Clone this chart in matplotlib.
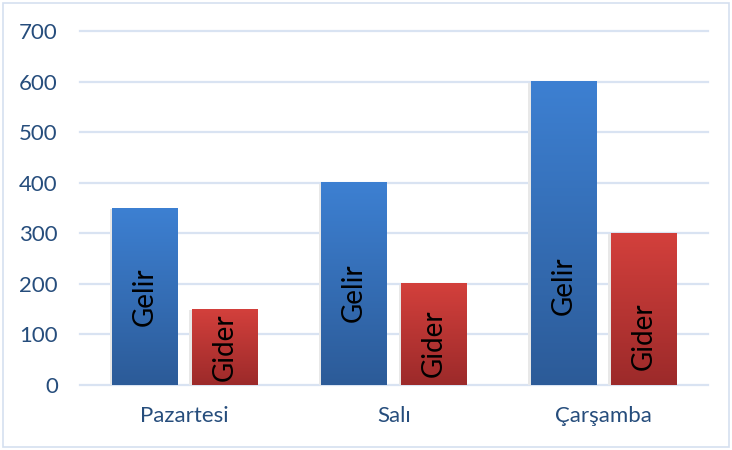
import numpy as np
import matplotlib.pyplot as plt
from matplotlib.colors import LinearSegmentedColormap
from matplotlib.patches import Rectangle

# veriler
gunler = ['Pazartesi', 'Salı', 'Çarşamba']
gelir = [350, 400, 600]
gider = [150, 200, 300]
yticks = [0, 100, 200, 300, 400, 500, 600, 700]
# çubuk içindeki yazıların orta noktaları
gelir_yazi_y = [174, 182, 196]
gider_yazi_y = [75, 83, 97]

fig = plt.figure(figsize=(7.32, 4.5), dpi=100)
ax = fig.add_axes([80 / 732, 65 / 450, 628 / 732, 354 / 450])

# grafik çevresindeki ince çerçeve
fig.patches.append(Rectangle((3 / 732, 3 / 450), 726 / 732, 444 / 450,
                             transform=fig.transFigure, fill=False,
                             edgecolor='#D5E0F0', linewidth=1.2))

mavi = LinearSegmentedColormap.from_list('mavi', ['#2C5B98', '#3D80D2'])
kirmizi = LinearSegmentedColormap.from_list('kirmizi', ['#9C2A2A', '#D3403C'])
grad = np.linspace(0, 1, 256).reshape(-1, 1)

x = np.arange(len(gunler))
w = 0.312
off = 0.191


def cubuk(xc, h, cmap, etiket, ty):
    # hafif gölge
    ax.add_patch(Rectangle((xc - w / 2 - 0.012, 0 - 5), w + 0.012, h + 3,
                           facecolor='#E8E8E8', edgecolor='none', zorder=2))
    ax.bar(xc, h, width=w, color='none', zorder=3)
    ax.imshow(grad, cmap=cmap, origin='lower', aspect='auto',
              extent=[xc - w / 2, xc + w / 2, 0, h], zorder=3)
    ax.text(xc, ty, etiket, rotation=90, ha='center', va='center',
            fontsize=20, family='Lato', color='black', zorder=4)


for i in range(len(gunler)):
    cubuk(x[i] - off, gelir[i], mavi, 'Gelir', gelir_yazi_y[i])
    cubuk(x[i] + off, gider[i], kirmizi, 'Gider', gider_yazi_y[i])

ax.set_xlim(-0.5, 2.5)
ax.set_ylim(0, 700)
ax.set_yticks(yticks)
ax.set_xticks(x)
ax.set_xticklabels(gunler)
for sp in ax.spines.values():
    sp.set_visible(False)
ax.grid(axis='y', color='#D9E3F2', linewidth=1.6, zorder=0)
ax.set_axisbelow(True)
for gl in ax.get_ygridlines():
    gl.set_clip_on(False)
ax.tick_params(length=0, colors='#264D7C', labelsize=16)
ax.tick_params(axis='y', pad=16)
ax.tick_params(axis='x', pad=15)
for t in ax.get_xticklabels() + ax.get_yticklabels():
    t.set_family('Lato')

fig.savefig('out.png', dpi=100)
